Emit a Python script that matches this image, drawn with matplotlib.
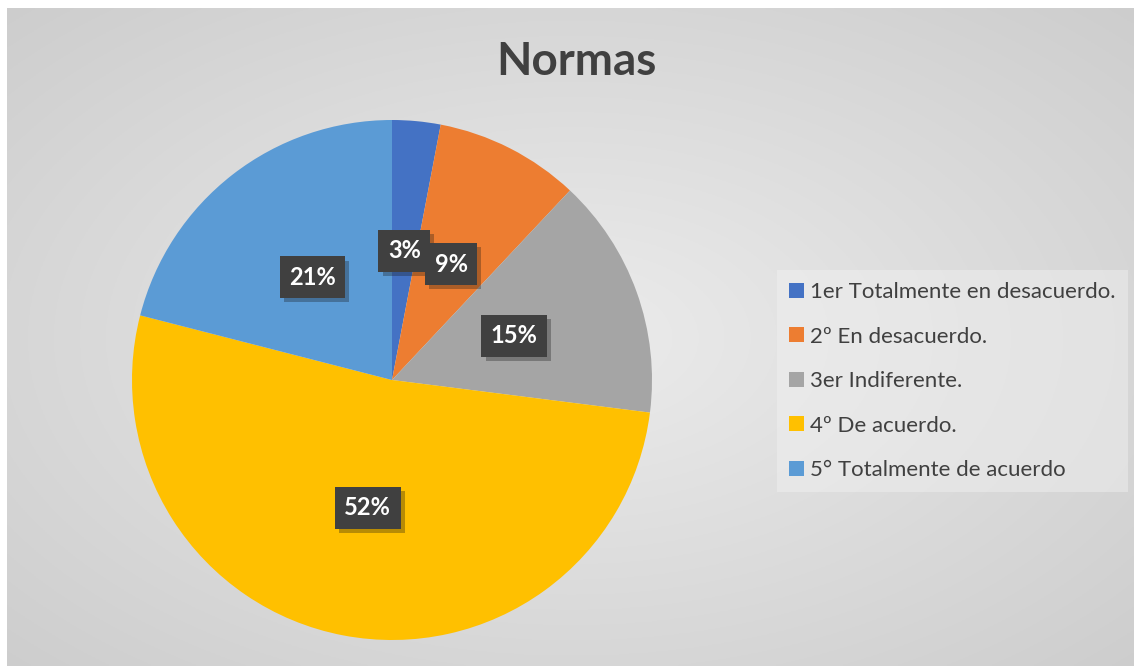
import matplotlib
matplotlib.use("Agg")
import matplotlib.pyplot as plt
import matplotlib.patheffects as pe
import numpy as np

# data
categories = ["1er Totalmente en desacuerdo.", "2º En desacuerdo.", "3er Indiferente.",
              "4º De acuerdo.", "5° Totalmente de acuerdo"]
values = [3, 9, 15, 52, 21]
colors = ["#4472C4", "#ED7D31", "#A5A5A5", "#FFC000", "#5B9BD5"]
title = "Normas"

plt.rcParams['font.family'] = ['Lato', 'DejaVu Sans']

W, H = 1134, 666
fig = plt.figure(figsize=(W / 100, H / 100), dpi=100)
fig.patch.set_facecolor("white")

# radial gradient background for the chart area
bg = fig.add_axes([7 / W, 0, 1 - 7 / W, 1 - 8 / H])
yy, xx = np.mgrid[0:300, 0:500]
d = np.sqrt(((xx - 250) / 250.0) ** 2 + ((yy - 150) / 150.0) ** 2) / np.sqrt(2)
shade = 0.925 - 0.12 * d
bg.imshow(np.dstack([shade] * 3), aspect="auto", extent=[0, 1, 0, 1])
bg.set_axis_off()

# pie
cx, cy, r = 392, 380, 260
ax = fig.add_axes([(cx - r) / W, (H - cy - r) / H, 2 * r / W, 2 * r / H])
wedges, texts, autotexts = ax.pie(values, colors=colors, startangle=90, counterclock=False,
                                  autopct="%1.0f%%", pctdistance=0.5, radius=1,
                                  wedgeprops=dict(linewidth=0))
ax.set_xlim(-1, 1)
ax.set_ylim(-1, 1)
ax.set_aspect("auto")
for t in autotexts:
    t.set_color("white")
    t.set_fontsize(17)
    t.set_fontweight("bold")
    t.set_bbox(dict(boxstyle="square,pad=0.4", facecolor="#404040", edgecolor="none"))
    t.get_bbox_patch().set_path_effects([pe.SimplePatchShadow(offset=(3, -3), alpha=0.3), pe.Normal()])

fig.text(576 / W, 1 - 62 / H, title, ha="center", va="center", fontsize=33,
         fontweight="bold", color="#404040")

leg = fig.legend(wedges, categories, loc="upper left",
                 bbox_to_anchor=(777 / W, 1 - 270 / H), borderaxespad=0, fontsize=16,
                 frameon=True, fancybox=False, handlelength=0.65, handleheight=0.65,
                 handletextpad=0.3, labelspacing=1.1, borderpad=0.55)
leg.get_frame().set_facecolor("#f2f2f2")
leg.get_frame().set_alpha(0.45)
leg.get_frame().set_edgecolor("none")
for t in leg.get_texts():
    t.set_color("#404040")

fig.savefig("out.png", dpi=100)
